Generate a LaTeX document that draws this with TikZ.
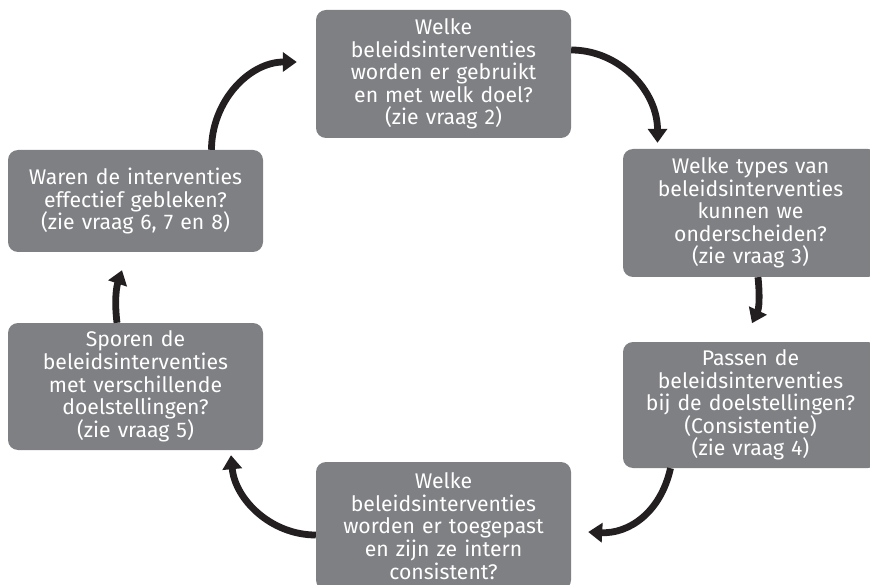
\documentclass[tikz,border=0pt]{standalone}
\usepackage{fontspec}
\setmainfont{Fira Sans}
\usetikzlibrary{arrows.meta, positioning}
\definecolor{boxgray}{RGB}{127,128,132}
\definecolor{arrowblack}{RGB}{35,31,32}

\begin{document}
\begin{tikzpicture}[x=1pt, y=-1pt,
    qbox/.style={rectangle, rounded corners=10pt, fill=boxgray, text=white, text width=235pt, inner xsep=10pt, inner ysep=0pt, minimum height=128pt, align=center, font=\fontsize{21.2}{22.6}\selectfont},
    loopArrow/.style={draw=arrowblack, line width=6.8pt, -{Triangle[width=19pt, length=14pt]}}]
    \path[use as bounding box] (0,0) rectangle (870,585);
    \clip (0,0) rectangle (870,585);

    % Define nodes
    \node (gebruikt) [qbox] at (443.5,74) {Welke\\ beleidsinterventies\\ worden er gebruikt\\ en met welk doel?\\ (zie vraag 2)};
    \node (types) [qbox] at (750.5,213) {Welke types van\\ beleidsinterventies\\ kunnen we\\ onderscheiden?\\ (zie vraag 3)};
    \node (passen) [qbox, minimum height=126pt] at (750.5,405) {Passen de\\ beleidsinterventies\\ bij de doelstellingen?\\ (Consistentie)\\ (zie vraag 4)};
    \node (toegepast) [qbox] at (443.5,526) {Welke\\ beleidsinterventies\\ worden er toegepast\\ en zijn ze intern\\ consistent?};
    \node (sporen) [qbox, minimum height=127pt] at (135.5,386.5) {Sporen de\\ beleidsinterventies\\ met verschillende\\ doelstellingen?\\ (zie vraag 5)};
    \node (waren) [qbox, minimum height=102pt] at (135.5,201) {Waren de interventies\\ effectief gebleken?\\ (zie vraag 6, 7 en 8)};

    % Connect nodes
    \draw[loopArrow] ([xshift=76pt]waren.north) .. controls +(0,-48) and +(-48,0) .. ([xshift=-19pt, yshift=12pt]gebruikt.west);
    \draw[loopArrow] ([yshift=24pt]gebruikt.east) .. controls +(48,0) and +(0,-52) .. ([xshift=-93pt, yshift=6pt]types.north);
    \draw[loopArrow] ([xshift=7.5pt]types.south) .. controls +(2,20) and +(7,-15) .. ([xshift=1.5pt, yshift=-46pt]types.south);
    \draw[loopArrow] ([xshift=-80pt]passen.south) .. controls +(-10,45) and +(40,2) .. ([xshift=17pt, yshift=-6pt]toegepast.east);
    \draw[loopArrow] ([yshift=-9pt]toegepast.west) .. controls +(-45,0) and +(4,44) .. ([xshift=95.5pt, yshift=-5pt]sporen.south);
    \draw[loopArrow] ([xshift=-18.5pt]sporen.north) .. controls +(-3,-25) and +(-5,15) .. ([xshift=-13.5pt, yshift=-18pt]waren.south);
\end{tikzpicture}
\end{document}
